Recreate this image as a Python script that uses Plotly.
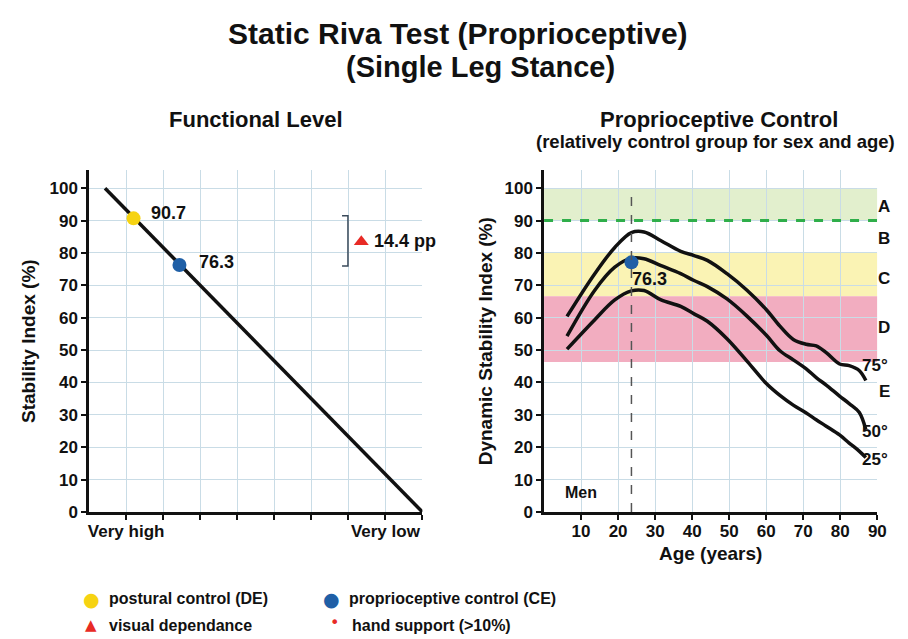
import plotly.graph_objects as go

# left panel: functional level line and the two measured points
level_x = [0.43, 9]
level_y = [100, 0]
postural_x, postural_y = 1.2, 90.7
proprio_x, proprio_y = 2.44, 76.3
visual_dep = 14.4

level_ticks = [1, 2, 3, 4, 5, 6, 7, 8, 9]
level_ticktext = ["Very high", "", "", "", "", "", "", "Very low", ""]

# right panel: percentile curves by age (men)
age = [6.2, 13.7, 19.1, 23.6, 27.0, 31.6, 36.9, 40.5, 44.1, 49.4, 54.8, 60.1,
       63.7, 67.3, 70.8, 73.5, 76.2, 79.8, 82.4, 85.1, 86.9]
p75 = [60.4, 73.6, 81.7, 86.3, 86.5, 83.8, 80.5, 79.2, 77.7, 73.6, 68.5, 62.4,
       57.4, 53.3, 51.8, 51.3, 49.2, 45.7, 45.2, 43.7, 40.6]
p50 = [54.3, 68.5, 75.6, 78.4, 78.2, 76.1, 73.6, 71.5, 69.6, 65.8, 60.5, 54.5,
       49.8, 47.0, 44.2, 41.5, 39.2, 35.8, 33.5, 30.8, 25.4]
p25 = [50.3, 59.4, 65.5, 68.3, 68.4, 65.5, 63.5, 61.2, 58.9, 53.5, 46.6, 39.6,
       36.0, 33.0, 30.6, 28.5, 26.5, 23.8, 21.3, 18.8, 16.8]
subject_age = 23.6

band_a = (90, 100)
band_c = (66.6, 80)
band_d = (46.3, 66.6)
zone_labels = ["A", "B", "C", "D", "E"]
zone_label_y = [94.4, 84.6, 72.1, 56.9, 37.1]
pct_labels = ["75°", "50°", "25°"]
pct_label_y = [45.2, 24.9, 16.2]

age_ticks = [10, 20, 30, 40, 50, 60, 70, 80, 90]
index_ticks = [0, 10, 20, 30, 40, 50, 60, 70, 80, 90, 100]

FONT = "Liberation Sans, Arial, sans-serif"
INK = "#111111"
GRID = "#c9dce6"
YELLOW = "#f6d312"
BLUE = "#1f5fa6"
RED = "#e82a25"

W, H = 908, 639


def fx(px):
    return px / W


def fy(py):
    return 1 - py / H


fig = go.Figure()

fig.add_trace(go.Scatter(x=level_x, y=level_y, mode="lines",
                         line={"color": INK, "width": 3.5},
                         cliponaxis=False, showlegend=False))
fig.add_trace(go.Scatter(x=[postural_x], y=[postural_y], mode="markers",
                         marker={"color": YELLOW, "size": 14},
                         showlegend=False))
fig.add_trace(go.Scatter(x=[proprio_x], y=[proprio_y], mode="markers",
                         marker={"color": BLUE, "size": 14},
                         showlegend=False))
# bracket showing the difference
fig.add_trace(go.Scatter(x=[6.83, 6.99, 6.99, 6.83],
                         y=[postural_y + 0.8, postural_y + 0.8, proprio_y - 0.3, proprio_y - 0.3],
                         mode="lines", line={"color": "#3a4a5a", "width": 1.5},
                         showlegend=False))
fig.add_trace(go.Scatter(x=[7.35], y=[(postural_y + proprio_y) / 2], mode="markers",
                         marker={"color": RED, "size": 13, "symbol": "triangle-up"},
                         showlegend=False))

# right panel
for lo, hi, col in [(band_a[0], band_a[1], "#e2efcd"),
                    (band_c[0], band_c[1], "#faf3b4"),
                    (band_d[0], band_d[1], "#f2adc0")]:
    fig.add_shape(type="rect", xref="x2", yref="y2", x0=0, x1=90, y0=lo, y1=hi,
                  fillcolor=col, line={"width": 0}, layer="below")
fig.add_shape(type="line", xref="x2", yref="y2", x0=0, x1=90, y0=90, y1=90,
              line={"color": "#2fae4a", "width": 3, "dash": "dash"})
fig.add_shape(type="line", xref="x2", yref="y2", x0=subject_age, x1=subject_age,
              y0=0, y1=99, line={"color": "#555555", "width": 1.5, "dash": "dash"})

for series in [p75, p50, p25]:
    fig.add_trace(go.Scatter(x=age, y=series, mode="lines", xaxis="x2", yaxis="y2",
                             line={"color": INK, "width": 3.5, "shape": "spline", "smoothing": 1.0},
                             showlegend=False))
fig.add_trace(go.Scatter(x=[subject_age], y=[proprio_y + 0.8], mode="markers",
                         xaxis="x2", yaxis="y2",
                         marker={"color": BLUE, "size": 14}, showlegend=False))

bold = {"family": FONT, "color": INK, "size": 16, "weight": "bold"}
headings = [
    ("Static Riva Test (Proprioceptive)", 454, 26, 30),
    ("(Single Leg Stance)", 477, 60, 29),
    ("Functional Level", 250, 113, 22),
    ("Proprioceptive Control", 718, 113, 22),
    ("(relatively control group for sex and age)", 714, 136, 18.5),
]
for text, px, py, size in headings:
    fig.add_annotation(text=text, x=fx(px), y=fy(py), xref="paper", yref="paper",
                       showarrow=False, xanchor="center", yanchor="middle",
                       font={**bold, "size": size})

fig.add_annotation(text=f"{postural_y}", x=1.63, y=92.4, xref="x", yref="y",
                   xanchor="left", showarrow=False, font={**bold, "size": 18})
fig.add_annotation(text=f"{proprio_y}", x=2.91, y=77.2, xref="x", yref="y",
                   xanchor="left", showarrow=False, font={**bold, "size": 18})
fig.add_annotation(text=f"{visual_dep} pp", x=7.63, y=83.6, xref="x", yref="y",
                   xanchor="left", showarrow=False, font={**bold, "size": 18})
fig.add_annotation(text=f"{proprio_y}", x=28.5, y=72.1, xref="x2", yref="y2",
                   showarrow=False, font={**bold, "size": 18})
fig.add_annotation(text="Men", x=9.9, y=6.1, xref="x2", yref="y2",
                   showarrow=False, font={**bold, "size": 16})
for lab, yy in zip(zone_labels, zone_label_y):
    fig.add_annotation(text=lab, x=94 / 90, y=yy, xref="x2 domain", yref="y2",
                       showarrow=False, font={**bold, "size": 17})
for lab, yy in zip(pct_labels, pct_label_y):
    fig.add_annotation(text=lab, x=93.5 / 90, y=yy, xref="x2 domain", yref="y2",
                       showarrow=False, font={**bold, "size": 17})

# legend at the bottom, built from text
legend_items = [
    ("●", YELLOW, 19, 83, 600, "postural control (DE)"),
    ("●", BLUE, 19, 326, 600, "proprioceptive control (CE)"),
    ("▲", RED, 15, 83, 627, "visual dependance"),
    ("•", RED, 16, 329, 624, "hand support (>10%)"),
]
for sym, col, sz, px, py, label in legend_items:
    fig.add_annotation(text=sym, x=fx(px), y=fy(py), xref="paper", yref="paper",
                       showarrow=False, xanchor="center", yanchor="middle",
                       font={"family": "DejaVu Sans", "size": sz, "color": col})
for sym, col, sz, px, py, label in legend_items:
    ty = 600 if py < 612 else 627
    fig.add_annotation(text=label, x=fx(px + 16), y=fy(ty), xref="paper",
                       yref="paper", xanchor="left", yanchor="middle", showarrow=False,
                       font={**bold, "size": 16})

axis_common = dict(showline=True, linecolor=INK, linewidth=2.5, ticks="outside",
                   ticklen=5, tickwidth=1.5, tickcolor=INK, showgrid=True,
                   gridcolor=GRID, gridwidth=1, zeroline=False,
                   tickfont={**bold, "size": 17})
y_dom = [fy(512), fy(165)]

fig.update_layout(
    width=W, height=H,
    margin={"l": 0, "r": 0, "t": 0, "b": 0},
    paper_bgcolor="white", plot_bgcolor="white",
    showlegend=False,
    xaxis=dict(**axis_common, domain=[fx(81), fx(418)], range=[0, 9],
               tickvals=level_ticks, ticktext=level_ticktext, ticklabelstandoff=-3),
    yaxis=dict(**axis_common, domain=y_dom, range=[0, 105.5], tickvals=index_ticks,
               title={"text": "Stability Index (%)", "font": {**bold, "size": 19},
                      "standoff": 9}),
    xaxis2=dict(**axis_common, domain=[fx(541), fx(878)], range=[0, 90],
                tickvals=age_ticks, anchor="y2", ticklabelstandoff=-3,
                title={"text": "Age (years)", "font": {**bold, "size": 19}, "standoff": 7}),
    yaxis2=dict(**axis_common, domain=y_dom, range=[0, 105.5], tickvals=index_ticks,
                anchor="x2",
                title={"text": "Dynamic Stability Index (%)", "font": {**bold, "size": 19},
                       "standoff": 7}),
)

fig.write_html("out.html")
